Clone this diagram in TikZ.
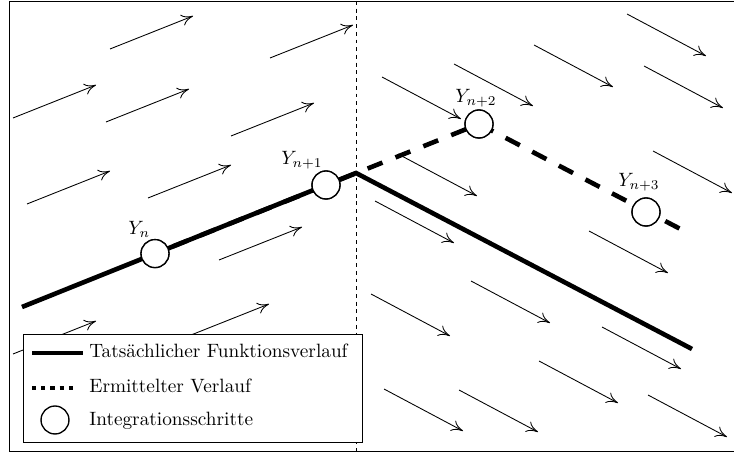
\documentclass[tikz,border=0pt]{standalone}
\usetikzlibrary{arrows.meta}
\begin{document}
\begin{tikzpicture}[x=0.5187pt,y=-0.5187pt,
  field/.style={line width=0.45pt,-{To[length=6pt,width=6pt]}},
  exact/.style={line width=2.4pt},
  euler/.style={line width=2.4pt,dash pattern=on 8.3pt off 7.26pt,dash phase=5.7pt},
  stepcirc/.style={circle,draw,fill=white,line width=0.7pt,minimum size=14.5pt,inner sep=0pt},
  lbl/.style={anchor=base west,inner sep=0pt},
  legendbox/.style={draw,fill=white,line width=0.5pt}]
\useasboundingbox (0,0) rectangle (734,454);
% frame (right edge lies outside the picture)
\draw[line width=0.5pt] (9,1) -- (745,1) (9,1) -- (9,451) -- (745,451);
% direction field, left half
\foreach \x/\y in {110/49,270/58,13/118,106/122,231/136,27/204,148/198,219/260,13/354,186/337}
  \draw[field] (\x,\y) -- ++(83,-33);
% direction field, right half
\foreach \x/\y in {627/14,534/45,644/66,454/64,382/77,653/151,398/154,375/201,589/231,471/281,371/294,602/327,539/361,384/389,459/390,648/395}
  \draw[field] (\x,\y) -- ++(79,42);
% separator
\draw[line width=0.45pt,dash pattern=on 2pt off 2pt] (356,1) -- (356,451);
% curves
\coordinate (s0) at (22,307);
\coordinate (kink) at (356,173);
\coordinate (s1) at (692,349);
\coordinate (dend) at (690,234);
\node[stepcirc] (yn) at (155,253.6) {};
\node[stepcirc] (yn1) at (326,185) {};
\node[stepcirc] (yn2) at (479,124) {};
\node[stepcirc] (yn3) at (646,212) {};
\draw[exact] (s0) -- (kink) -- (s1);
\draw[euler] (yn.center) -- (yn2.center) -- (dend);
\foreach \n in {yn,yn1,yn2,yn3}
  \node[stepcirc] at (\n) {};
\node[lbl] (lyn) at (128,235) {$Y_n$};
\node[lbl] (lyn1) at (281,165) {$Y_{n+1}$};
\node[lbl] (lyn2) at (455,103) {$Y_{n+2}$};
\node[lbl] (lyn3) at (618,187) {$Y_{n+3}$};
% legend
\path[legendbox] (23,334) rectangle (362,442);
\coordinate (la0) at (32,353); \coordinate (la1) at (83,353);
\coordinate (lb0) at (32,388); \coordinate (lb1) at (75,388);
\draw[line width=2.1pt] (la0) -- (la1);
\draw[line width=2.1pt,dash pattern=on 2.23pt off 2.54pt] (lb0) -- (lb1);
\node[stepcirc] (lc) at (55,420) {};
\node[lbl] (ta) at (89,358) {Tatsächlicher Funktionsverlauf};
\node[lbl] (tb) at (89,393) {Ermittelter Verlauf};
\node[lbl] (tc) at (89,426) {Integrationsschritte};
\end{tikzpicture}
\end{document}
